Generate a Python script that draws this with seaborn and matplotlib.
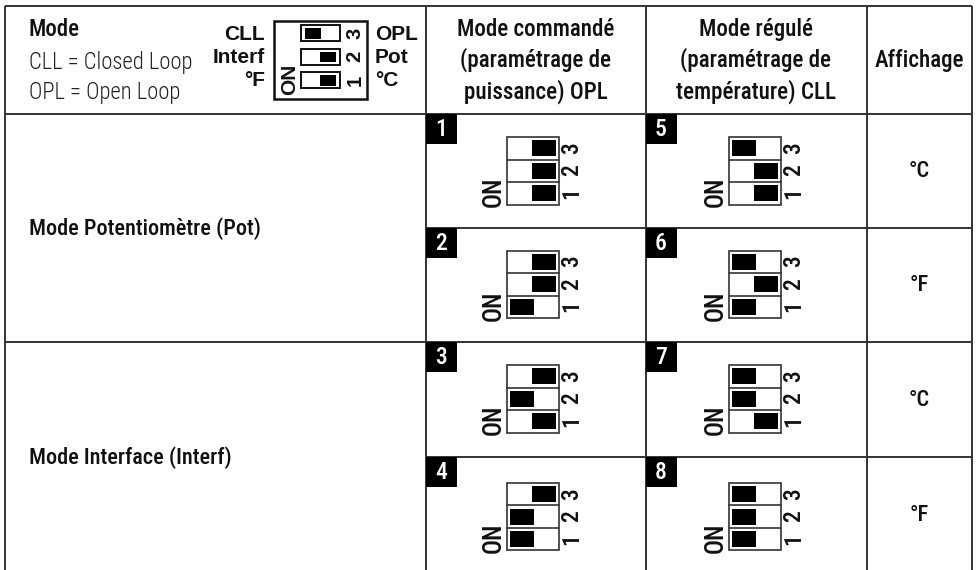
import matplotlib
matplotlib.use("Agg")
import matplotlib.pyplot as plt
from matplotlib.markers import MarkerStyle
from matplotlib.patches import Rectangle
import pandas as pd
import seaborn as sns

# table content
badges = [1, 2, 3, 4, 5, 6, 7, 8]
# switch positions, listed for switch 3, 2, 1 (R = right, L = left)
states = ["RRR", "RRL", "RLR", "RLL", "LRR", "LRL", "LLR", "LLL"]
header_state = "LRR"
units = ["°C", "°F", "°C", "°F"]
modes = ["Mode Potentiomètre (Pot)", "Mode Interface (Interf)"]
col_titles = ["Mode commandé\n(paramétrage de\npuissance) OPL",
              "Mode régulé\n(paramétrage de\ntempérature) CLL",
              "Affichage"]
left_labels = ["CLL", "Interf", "°F"]
right_labels = ["OPL", "Pot", "°C"]

# layout, in pixels
col_lines = [426, 646, 867]
row_lines = [114, 228, 342, 457]
block_x = [507, 729]
block_y = [137, 250.5, 365, 482.7]
row_offsets = [0, 22.5, 45]

NARROW = ['Roboto Condensed', 'Liberation Sans', 'DejaVu Sans']
WIDE = ['Liberation Sans', 'DejaVu Sans']

sns.set_theme(style="white")
plt.rcParams['font.family'] = NARROW
plt.rcParams['font.size'] = 15

fig = plt.figure(figsize=(9.77, 5.70), dpi=100)
ax = fig.add_axes([0, 0, 1, 1])
ax.set_xlim(0, 977)
ax.set_ylim(570, 0)
ax.axis('off')

# table rules
rule = dict(color='#333333', lw=1.4)
ax.hlines([6, 114, 342], 5, 972, **rule)
ax.hlines([228, 457], 426, 972, **rule)
ax.vlines([5, 426, 972], 6, 570, **rule)
ax.vlines([646, 867], 6, 570, **rule)

# collect the knobs of all switches in one table for seaborn
knobs = []
for i, state in enumerate(states):
    x0 = block_x[i // 4]
    y0 = block_y[i % 4]
    for off, pos in zip(row_offsets, state):
        knobs.append({'x': x0 + (15 if pos == 'L' else 37), 'y': y0 + off + 11.3})
    ax.add_patch(Rectangle((x0, y0), 52, 67.5, fc='white', ec='#333333', lw=1.2, zorder=1))
    for off in row_offsets[1:]:
        ax.plot([x0, x0 + 52], [y0 + off, y0 + off], color='#333333', lw=1.2, zorder=1)
    for off, num in zip(row_offsets, "321"):
        ax.text(x0 + 65, y0 + off + 11, num, rotation=90, ha='center', va='center',
                fontsize=17, fontweight='medium', color='#111111')
    ax.text(x0 - 13, y0 + 55, "ON", rotation=90, ha='center', va='center', fontsize=18,
            fontweight='medium', color='#111111')

knob_shape = MarkerStyle([(-1, -0.68), (1, -0.68), (1, 0.68), (-1, 0.68)])
sns.scatterplot(data=pd.DataFrame(knobs), x='x', y='y', marker=knob_shape, s=278,
                color='black', linewidth=0, zorder=3, ax=ax, legend=False)

# number badges
for i, num in enumerate(badges):
    x0 = col_lines[i // 4]
    y0 = row_lines[i % 4]
    ax.add_patch(Rectangle((x0, y0), 31, 30, fc='black', ec='none', zorder=3))
    ax.text(x0 + 15, y0 + 15.5, str(num), color='white', ha='center', va='center',
            fontsize=17, fontweight='medium', zorder=4)

# header legend
ax.text(29, 30, "Mode", fontsize=16.5, fontweight='medium', va='center', color='#111111')
ax.text(29, 62, "CLL = Closed Loop", fontsize=16.3, fontweight='light', va='center', color='#222222')
ax.text(29, 93, "OPL = Open Loop", fontsize=16.3, fontweight='light', va='center', color='#222222')

ax.add_patch(Rectangle((273.5, 20.5), 93, 78, fc='white', ec='#111111', lw=1.8, zorder=1))
for k, pos in enumerate(header_state):
    sy = 25 + 23.5 * k
    ax.add_patch(Rectangle((301, sy), 39, 16, fc='white', ec='#111111', lw=1.4, zorder=2))
    kx = 305 if pos == 'L' else 320
    ax.add_patch(Rectangle((kx, sy + 3), 16, 10.5, fc='black', ec='none', zorder=3))
    ax.text(355, sy + 8, "321"[k], rotation=90, ha='center', va='center', fontsize=14.5,
            fontweight='bold', family=WIDE, color='#111111')
    ax.text(265, sy + 9, left_labels[k], ha='right', va='center', fontsize=15,
            fontweight='bold', family=WIDE, color='#111111')
    ax.text(375, sy + 9, right_labels[k], ha='left', va='center', fontsize=15,
            fontweight='bold', family=WIDE, color='#111111')
ax.text(290, 79, "ON", rotation=90, ha='center', va='center', fontsize=15,
        fontweight='bold', family=WIDE, color='#111111')

# column titles
for cx, title in zip([536, 756, 919], col_titles):
    ax.text(cx, 61, title, ha='center', va='center', fontsize=16.6, linespacing=1.36,
            fontweight='medium', color='#111111')

for y, mode in zip([229, 458], modes):
    ax.text(29, y, mode, fontsize=16, fontweight='medium', va='center', color='#111111')

for y, unit in zip([171, 285, 400, 515], units):
    ax.text(919, y, unit, fontsize=16, fontweight='medium', ha='center', va='center', color='#111111')

fig.savefig("out.png", dpi=100)
